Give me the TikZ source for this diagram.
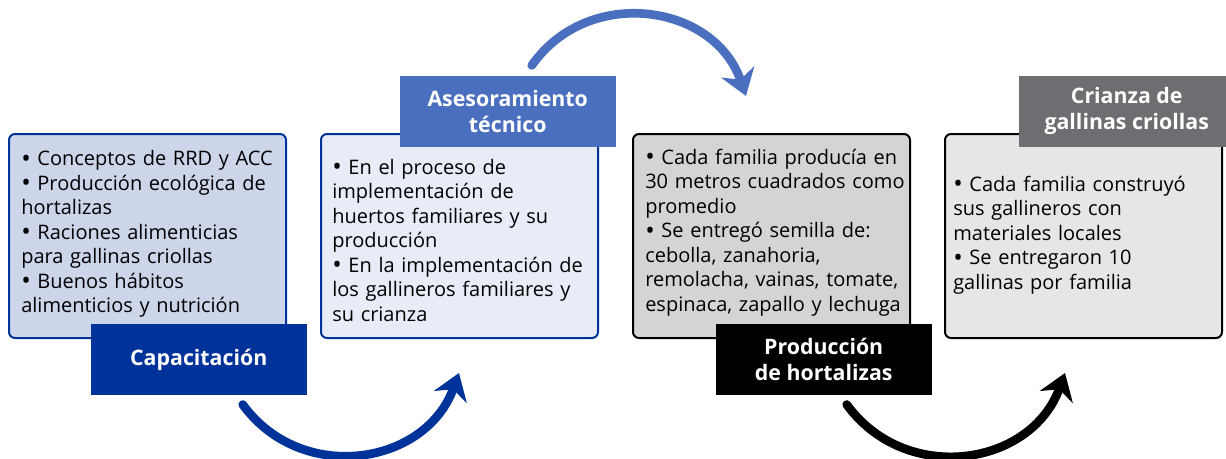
\documentclass[tikz,border=0pt]{standalone}
\usepackage{fontspec}
\setmainfont{Open Sans}
\usetikzlibrary{positioning, arrows.meta}
\definecolor{capblue}{RGB}{0,51,153}
\definecolor{asesblue}{RGB}{74,111,190}
\definecolor{capfill}{RGB}{205,213,234}
\definecolor{asesfill}{RGB}{232,236,246}
\definecolor{prodfill}{RGB}{212,212,214}
\definecolor{criafill}{RGB}{230,230,232}
\definecolor{criagray}{RGB}{109,110,113}
\newcommand{\bul}{\raisebox{-1.2pt}{\fontsize{19}{19}\selectfont•}} % larger bullet
\tikzset{
x=0.75pt, y=0.75pt, % one unit is one pixel of the layout
node distance=24.75pt, % gap between two boxes
box/.style={draw, line width=1.5pt, rounded corners=4.5pt, minimum width=207.75pt, minimum height=153pt, inner sep=0pt}, % the rounded text boxes
tag/.style={minimum width=162pt, minimum height=53.25pt, inner sep=0pt, text=white, align=center, font=\bfseries\fontsize{16}{19.5}\selectfont}, % the titles
txt/.style={anchor=base west, inner sep=0pt, text width=215pt, align=left, font=\fontsize{15}{18.4}\selectfont}, % bullet lists
flow/.style={line width=6.5pt, line cap=round, -{Stealth[length=19pt, width=26pt, inset=6pt]}, looseness=1.16}, % curved arrows
}
\begin{document}
\begin{tikzpicture}
\useasboundingbox (0,0) rectangle (1226,458);
% boxes
\node[box, draw=capblue, fill=capfill] (b1) at (147.5,222) {};
\node[box, draw=capblue, fill=asesfill, right=of b1] (b2) {};
\node[box, draw=black, fill=prodfill, right=of b2] (b3) {};
\node[box, draw=black, fill=criafill, right=of b3] (b4) {};
% bullet lists
\node[txt] (t1) at ([shift={(9.75pt,-24.5pt)}]b1.north west) {\bul\ Conceptos de RRD y ACC\\ \bul\ Producción ecológica de\\ hortalizas\\ \bul\ Raciones alimenticias\\ para gallinas criollas\\ \bul\ Buenos hábitos\\ alimenticios y nutrición};
\node[txt] (t2) at ([shift={(9pt,-30.75pt)}]b2.north west) {\bul\ En el proceso de\\ implementación de\\ huertos familiares y su\\ producción\\ \bul\ En la implementación de\\ los gallineros familiares y\\ su crianza};
\node[txt] (t3) at ([shift={(9.75pt,-23.25pt)}]b3.north west) {\bul\ Cada familia producía en\\ 30 metros cuadrados como\\ promedio\\ \bul\ Se entregó semilla de:\\ cebolla, zanahoria,\\ remolacha, vainas, tomate,\\ espinaca, zapallo y lechuga};
\node[txt] (t4) at ([shift={(6.75pt,-43.5pt)}]b4.north west) {\bul\ Cada familia construyó\\ sus gallineros con\\ materiales locales\\ \bul\ Se entregaron 10\\ gallinas por familia};
% titles
\node[tag, fill=capblue, anchor=north east] (cap) at ([shift={(15pt,11.25pt)}]b1.south east) {Capacitación};
\node[tag, fill=asesblue, anchor=south east] (ases) at ([shift={(12.75pt,-10.5pt)}]b2.north east) {Asesoramiento\\ técnico};
\node[tag, fill=black, anchor=north east] (prod) at ([shift={(15.75pt,11.25pt)}]b3.south east) {Producción\\ de hortalizas};
\node[tag, fill=criagray, anchor=south east] (cria) at ([shift={(9pt,-10.5pt)}]b4.north east) {Crianza de\\ gallinas criollas};
% arrows
\coordinate (s1) at ([shift={(33pt,-6.75pt)}]cap.south);
\coordinate (e1) at ([shift={(104.25pt,-25.5pt)}]b2.south west);
\coordinate (s2) at ([shift={(18pt,7.5pt)}]ases.north);
\coordinate (e2) at ([shift={(85.5pt,27.75pt)}]b3.north west);
\coordinate (s3) at ([shift={(17.25pt,-6.75pt)}]prod.south);
\coordinate (e3) at ([shift={(90.75pt,-25.5pt)}]b4.south west);
\draw[flow, capblue] (s1) to[out=-54, in=-110] (e1);
\draw[flow, asesblue] (s2) to[out=55, in=109] (e2);
\draw[flow, black] (s3) to[out=-54, in=-110] (e3);
\end{tikzpicture}
\end{document}
